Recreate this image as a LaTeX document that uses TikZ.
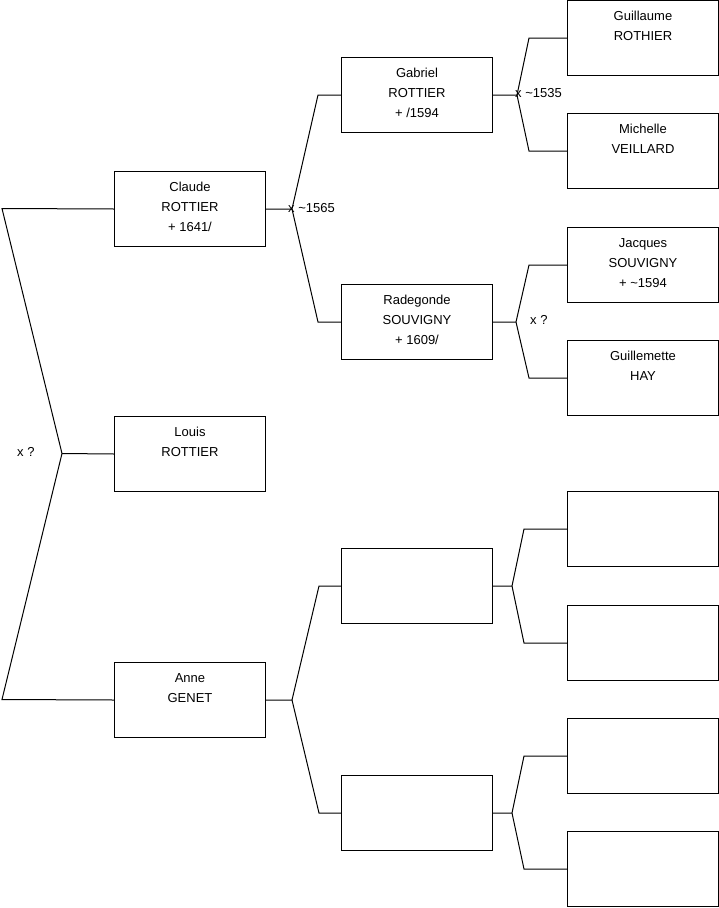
\documentclass[tikz,border=0pt]{standalone}
\usepackage{fontspec}
\setmainfont{Liberation Sans}
\newcommand\boxtext[1]{\parbox[c][75pt][t]{151pt}{\centering\fontsize{13}{20}\selectfont\rule{0pt}{19.5pt}#1\par}}
\tikzset{
  person/.style={draw=black, line width=1pt, inner sep=0pt, minimum width=151pt, minimum height=75pt, anchor=north west, fill=white},
  link/.style={draw=black, line width=1pt},
  marr/.style={anchor=west, inner sep=0pt, font=\fontsize{13}{15}\selectfont}
}
\begin{document}
\begin{tikzpicture}[x=1pt, y=-1pt]
\useasboundingbox (0,0) rectangle (719,908);
% generation 1
\node[person] (claude) at (114,171) {\boxtext{Claude\\ROTTIER\\+ 1641/}};
\node[person] (louis) at (114,416) {\boxtext{Louis\\ROTTIER}};
\node[person] (anne) at (114,662) {\boxtext{Anne\\GENET}};
% generation 2
\node[person] (gabriel) at (341,57) {\boxtext{Gabriel\\ROTTIER\\+ /1594}};
\node[person] (radegonde) at (341,284) {\boxtext{Radegonde\\SOUVIGNY\\+ 1609/}};
\node[person] (e1) at (341,548) {\boxtext{}};
\node[person] (e2) at (341,775) {\boxtext{}};
% generation 3
\node[person] (guillaume) at (567,0) {\boxtext{Guillaume\\ROTHIER}};
\node[person] (michelle) at (567,113) {\boxtext{Michelle\\VEILLARD}};
\node[person] (jacques) at (567,227) {\boxtext{Jacques\\SOUVIGNY\\+ \textasciitilde1594}};
\node[person] (guillemette) at (567,340) {\boxtext{Guillemette\\HAY}};
\node[person] (e11) at (567,491) {\boxtext{}};
\node[person] (e12) at (567,605) {\boxtext{}};
\node[person] (e21) at (567,718) {\boxtext{}};
\node[person] (e22) at (567,831) {\boxtext{}};
% left fork
\coordinate (L1) at (2,208.5);
\coordinate (L0) at (62,453.5);
\coordinate (L2) at (2,699.5);
\draw[link] (claude.west) -- (L1) -- (L0) -- (L2) -- (anne.west);
\draw[link] (L0) -- (louis.west);
\node[marr] (m0) at (17,452) {x ?};
% Claude fork
\coordinate (F1) at ([xshift=26pt]claude.east);
\draw[link] (claude.east) -- (F1) -- ([xshift=-23pt]gabriel.west) -- (gabriel.west);
\draw[link] (F1) -- ([xshift=-23pt]radegonde.west) -- (radegonde.west);
\node[marr] (m1) at (288,208) {x \textasciitilde1565};
% Gabriel fork
\coordinate (F2) at ([xshift=24pt]gabriel.east);
\draw[link] (gabriel.east) -- (F2) -- ([xshift=-38pt]guillaume.west) -- (guillaume.west);
\draw[link] (F2) -- ([xshift=-38pt]michelle.west) -- (michelle.west);
\node[marr] (m2) at (515,93) {x \textasciitilde1535};
% Radegonde fork
\coordinate (F3) at ([xshift=23pt]radegonde.east);
\draw[link] (radegonde.east) -- (F3) -- ([xshift=-38pt]jacques.west) -- (jacques.west);
\draw[link] (F3) -- ([xshift=-38pt]guillemette.west) -- (guillemette.west);
\node[marr] (m3) at (530,320) {x ?};
% Anne fork
\coordinate (F4) at ([xshift=26pt]anne.east);
\draw[link] (anne.east) -- (F4) -- ([xshift=-22pt]e1.west) -- (e1.west);
\draw[link] (F4) -- ([xshift=-22pt]e2.west) -- (e2.west);
% empty forks
\coordinate (F5) at ([xshift=19pt]e1.east);
\draw[link] (e1.east) -- (F5) -- ([xshift=-43pt]e11.west) -- (e11.west);
\draw[link] (F5) -- ([xshift=-43pt]e12.west) -- (e12.west);
\coordinate (F6) at ([xshift=19pt]e2.east);
\draw[link] (e2.east) -- (F6) -- ([xshift=-43pt]e21.west) -- (e21.west);
\draw[link] (F6) -- ([xshift=-43pt]e22.west) -- (e22.west);
\end{tikzpicture}
\end{document}
